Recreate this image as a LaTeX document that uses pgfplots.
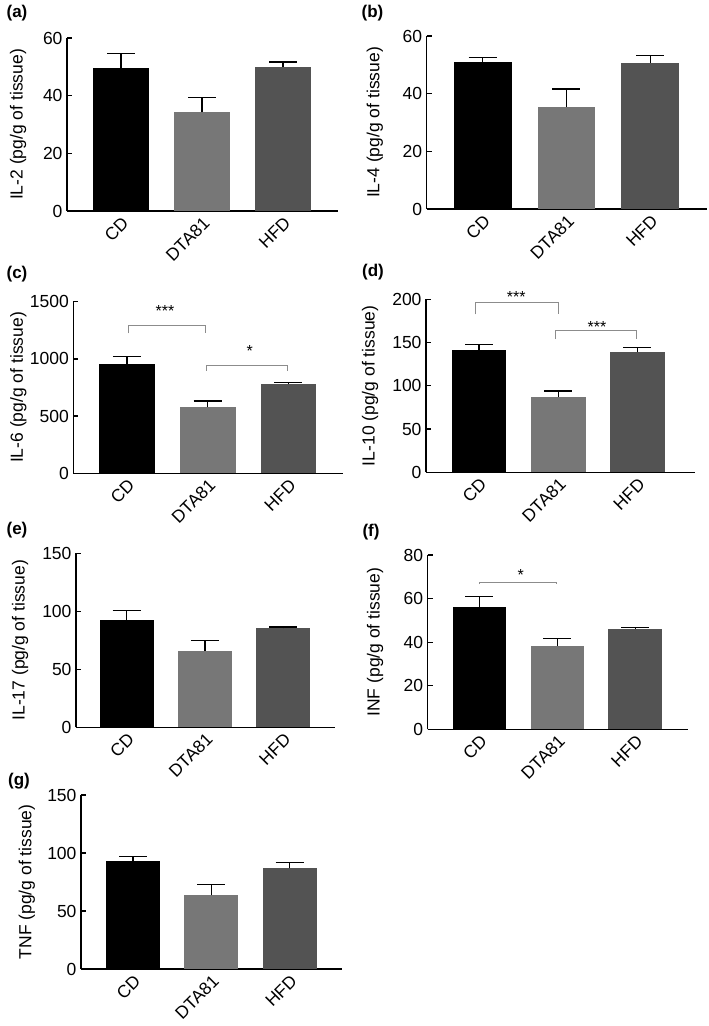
\documentclass[border=0pt]{standalone}
\usepackage{fontspec}
\setmainfont{Liberation Sans}
\usepackage{pgfplots}
\pgfplotsset{compat=1.18}
\definecolor{cdcol}{HTML}{000000}
\definecolor{dtacol}{HTML}{777777}
\definecolor{hfdcol}{HTML}{535353}
\definecolor{brk}{HTML}{8C8C8C}
\newcommand{\fz}{\fontsize{17.5}{20}\selectfont}
\pgfplotsset{
  panel/.style={
    scale only axis,
    axis x line*=bottom, axis y line*=left,
    axis line style={line width=1.3pt, black},
    ymin=0,
    xtick={0,1,2}, xticklabels={CD,DTA81,HFD},
    tick align=inside, major tick length=5pt,
    tick style={line width=1.3pt, black},
    xticklabel style={rotate=45, anchor=north east, font=\fz},
    yticklabel style={font=\fz, xshift=-1pt},
    ylabel style={font=\fz, anchor=center},
    /pgf/number format/assume math mode=true,
    /pgf/number format/1000 sep={},
    scaled y ticks=false,
    clip=false,
    xmin=-0.667, xmax=2.67,
  },
  ylabx/.style={ylabel style={at={(axis description cs:#1,0.5)}}},
  bars/.style={ybar, bar width=0.69, bar shift=0pt, draw=none, fill=#1,
     error bars/.cd, y dir=plus, y explicit,
     error bar style={line width=1.3pt, black},
     error mark options={rotate=90, mark size=14pt, line width=1.3pt, black}},
}
\tikzset{brkline/.style={brk, line width=0.8pt}}
\newcommand{\stars}[1]{\fontsize{16}{16}\selectfont #1}
\begin{document}
\begin{tikzpicture}
\path[use as bounding box] (0,0) rectangle (709pt,1026pt);
% (a)
\begin{axis}[panel, at={(67pt,815pt)}, anchor=south west, width=271pt, height=173pt,
  xmin=-0.667, xmax=2.679, ymax=60, ytick={0,20,40,60}, ylabx=-0.180,
  ylabel={IL-2 (pg/g of tissue)}]
\addplot[bars=cdcol] coordinates {(0,49.6) +- (0,5.1)};
\addplot[bars=dtacol] coordinates {(1,34.2) +- (0,5.2)};
\addplot[bars=hfdcol] coordinates {(2,50.0) +- (0,1.7)};
\end{axis}
% (b)
\begin{axis}[panel, at={(426.7pt,817pt)}, anchor=south west, width=280pt, height=173pt,
  xmin=-0.668, xmax=2.673, ymax=60, ytick={0,20,40,60}, ylabx=-0.185,
  ylabel={IL-4 (pg/g of tissue)}]
\addplot[bars=cdcol] coordinates {(0,51.0) +- (0,1.6)};
\addplot[bars=dtacol] coordinates {(1,35.3) +- (0,6.3)};
\addplot[bars=hfdcol] coordinates {(2,50.7) +- (0,2.5)};
\end{axis}
% (c)
\begin{axis}[panel, at={(73.3pt,552.7pt)}, anchor=south west, width=269.7pt, height=171.6pt,
  xmin=-0.665, xmax=2.675, ymax=1500, ytick={0,500,1000,1500}, ylabx=-0.204,
  ylabel={IL-6 (pg/g of tissue)}]
\addplot[bars=cdcol] coordinates {(0,955) +- (0,64)};
\addplot[bars=dtacol] coordinates {(1,576) +- (0,56)};
\addplot[bars=hfdcol] coordinates {(2,780) +- (0,15)};
\draw[brkline] (axis cs:0.016,1223) |- (axis cs:0.966,1296) -- (axis cs:0.966,1223);
\node at (axis cs:0.47,1420) {\stars{***}};
\draw[brkline] (axis cs:0.987,896) |- (axis cs:1.99,946) -- (axis cs:1.99,896);
\node at (axis cs:1.52,1070) {\stars{*}};
\end{axis}
% (d)
\begin{axis}[panel, at={(426pt,553.7pt)}, anchor=south west, width=269pt, height=173pt,
  xmin=-0.669, xmax=2.726, ymax=200, ytick={0,50,100,150,200}, ylabx=-0.208,
  ylabel={IL-10 (pg/g of tissue)}]
\addplot[bars=cdcol] coordinates {(0,141) +- (0,7)};
\addplot[bars=dtacol] coordinates {(1,87) +- (0,7)};
\addplot[bars=hfdcol] coordinates {(2,139) +- (0,5.5)};
\draw[brkline] (axis cs:-0.04,182.7) |- (axis cs:1.0,196) -- (axis cs:1.0,182.7);
\node at (axis cs:0.47,203) {\stars{***}};
\draw[brkline] (axis cs:0.97,154) |- (axis cs:1.99,163.7) -- (axis cs:1.99,154);
\node at (axis cs:1.49,168) {\stars{***}};
\end{axis}
% (e)
\begin{axis}[panel, at={(76pt,298.7pt)}, anchor=south west, width=259pt, height=174pt,
  xmin=-0.647, xmax=2.66, ymax=150, ytick={0,50,100,150}, ylabx=-0.216,
  ylabel={IL-17 (pg/g of tissue)}]
\addplot[bars=cdcol] coordinates {(0,92.5) +- (0,8)};
\addplot[bars=dtacol] coordinates {(1,66.0) +- (0,8.7)};
\addplot[bars=hfdcol] coordinates {(2,85.3) +- (0,1.2)};
\end{axis}
% (f)
\begin{axis}[panel, at={(427.7pt,296.7pt)}, anchor=south west, width=260.3pt, height=174.3pt,
  xmin=-0.665, xmax=2.677, ymax=80, ytick={0,20,40,60,80}, ylabx=-0.202,
  ylabel={INF (pg/g of tissue)}]
\addplot[bars=cdcol] coordinates {(0,56.3) +- (0,4.6)};
\addplot[bars=dtacol] coordinates {(1,38.4) +- (0,3.4)};
\addplot[bars=hfdcol] coordinates {(2,46.2) +- (0,0.4)};
\draw[brkline] (axis cs:0,66.6) |- (axis cs:0.99,67.5) -- (axis cs:0.99,66.6);
\node at (axis cs:0.53,70.6) {\stars{*}};
\end{axis}
% (g)
\begin{axis}[panel, at={(81pt,57pt)}, anchor=south west, width=260.7pt, height=174pt,
  xmin=-0.665, xmax=2.667, ymax=150, ytick={0,50,100,150}, ylabx=-0.208,
  ylabel={TNF (pg/g of tissue)}]
\addplot[bars=cdcol] coordinates {(0,93.4) +- (0,3.4)};
\addplot[bars=dtacol] coordinates {(1,63.5) +- (0,9.5)};
\addplot[bars=hfdcol] coordinates {(2,86.8) +- (0,4.8)};
\end{axis}
\begin{scope}[every node/.style={font=\bfseries\fontsize{17}{19}\selectfont}]
\node at (17pt,1013pt) {(a)};
\node at (372.5pt,1013pt) {(b)};
\node at (17pt,752pt) {(c)};
\node at (373pt,753.5pt) {(d)};
\node at (17pt,495.5pt) {(e)};
\node at (371pt,493.5pt) {(f)};
\node at (19pt,244.5pt) {(g)};
\end{scope}
\end{tikzpicture}
\end{document}
